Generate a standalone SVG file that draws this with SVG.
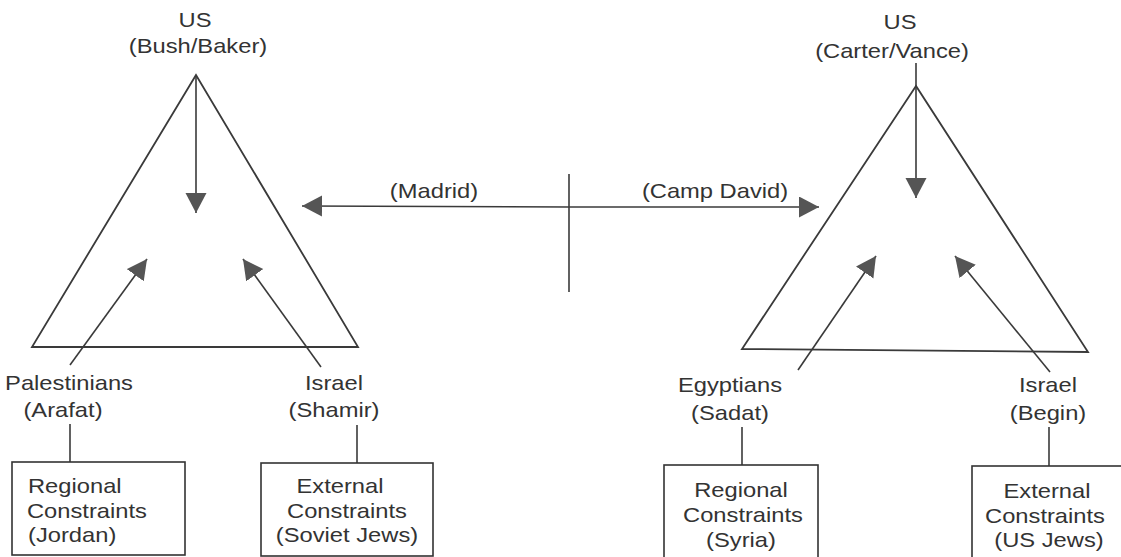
<svg xmlns="http://www.w3.org/2000/svg" width="1121" height="557" viewBox="0 0 1121 557">
<style>
.t{font-family:"Liberation Sans",Arial,sans-serif;font-size:21px;fill:#333;}
.m{text-anchor:middle;}
.ln{stroke:#3a3a3a;stroke-width:1.6;fill:none;}
.tri{stroke:#3a3a3a;stroke-width:1.8;fill:none;stroke-linejoin:miter;}
.box{stroke:#333;stroke-width:1.6;fill:#fff;}
</style>
<defs>
<marker id="ah" markerUnits="userSpaceOnUse" markerWidth="22" markerHeight="22" refX="20" refY="10.5" orient="auto">
<path d="M0,0 L20,10.5 L0,21 Z" fill="#555"/>
</marker>
</defs>
<rect width="1121" height="557" fill="#fff"/>
<g id="triangle-left"><polygon class="tri" points="196,75 32,347 358,347"/></g>
<g id="triangle-right"><polygon class="tri" points="916,86 742,349 1088,352"/></g>
<g id="connectors">
<line class="ln" x1="196" y1="75" x2="196" y2="213" marker-end="url(#ah)"/>
<line class="ln" x1="70" y1="365" x2="147" y2="259" marker-end="url(#ah)"/>
<line class="ln" x1="321" y1="367" x2="243" y2="259" marker-end="url(#ah)"/>
<line class="ln" x1="70" y1="424" x2="70" y2="462"/>
<line class="ln" x1="357" y1="425" x2="357" y2="463"/>
<line class="ln" x1="569" y1="207" x2="302" y2="206" marker-end="url(#ah)"/>
<line class="ln" x1="569" y1="207" x2="819" y2="207" marker-end="url(#ah)"/>
<line class="ln" x1="569" y1="174" x2="569" y2="292"/>
<line class="ln" x1="916" y1="63" x2="916" y2="198" marker-end="url(#ah)"/>
<line class="ln" x1="798" y1="370" x2="876" y2="256" marker-end="url(#ah)"/>
<line class="ln" x1="1050" y1="372" x2="955" y2="256" marker-end="url(#ah)"/>
<line class="ln" x1="742" y1="427" x2="742" y2="465"/>
<line class="ln" x1="1049" y1="427" x2="1049" y2="466"/>
</g>
<g id="us-left">
<text class="t m" transform="translate(195,27) scale(1.13,1)">US</text>
<text class="t m" transform="translate(198,53) scale(1.13,1)">(Bush/Baker)</text>
</g>
<g id="us-right">
<text class="t m" transform="translate(900,29) scale(1.13,1)">US</text>
<text class="t m" transform="translate(892,58) scale(1.13,1)">(Carter/Vance)</text>
</g>
<g id="label-madrid"><text class="t m" transform="translate(434,198) scale(1.13,1)">(Madrid)</text></g>
<g id="label-campdavid"><text class="t m" transform="translate(715,198) scale(1.13,1)">(Camp David)</text></g>
<g id="palestinians">
<text class="t m" transform="translate(69,390) scale(1.13,1)">Palestinians</text>
<text class="t m" transform="translate(63,417) scale(1.13,1)">(Arafat)</text>
</g>
<g id="israel-left">
<text class="t m" transform="translate(334,390) scale(1.13,1)">Israel</text>
<text class="t m" transform="translate(334,417) scale(1.13,1)">(Shamir)</text>
</g>
<g id="egyptians">
<text class="t m" transform="translate(730,392) scale(1.13,1)">Egyptians</text>
<text class="t m" transform="translate(730,420) scale(1.13,1)">(Sadat)</text>
</g>
<g id="israel-right">
<text class="t m" transform="translate(1048,392) scale(1.13,1)">Israel</text>
<text class="t m" transform="translate(1048,420) scale(1.13,1)">(Begin)</text>
</g>
<g id="box-jordan">
<rect class="box" x="12" y="462" width="173" height="93"/>
<text class="t" transform="translate(28,493) scale(1.13,1)">Regional</text>
<text class="t" transform="translate(27,518) scale(1.13,1)">Constraints</text>
<text class="t" transform="translate(28,542) scale(1.13,1)">(Jordan)</text>
</g>
<g id="box-soviet">
<rect class="box" x="261" y="463" width="172" height="93"/>
<text class="t m" transform="translate(340,493) scale(1.13,1)">External</text>
<text class="t m" transform="translate(347,518) scale(1.13,1)">Constraints</text>
<text class="t m" transform="translate(347,542) scale(1.13,1)">(Soviet Jews)</text>
</g>
<g id="box-syria">
<rect class="box" x="664" y="465" width="154" height="100"/>
<text class="t m" transform="translate(741,497) scale(1.13,1)">Regional</text>
<text class="t m" transform="translate(743,522) scale(1.13,1)">Constraints</text>
<text class="t m" transform="translate(741,547) scale(1.13,1)">(Syria)</text>
</g>
<g id="box-usjews">
<rect class="box" x="972" y="466" width="160" height="100"/>
<text class="t m" transform="translate(1047,498) scale(1.13,1)">External</text>
<text class="t m" transform="translate(1045,523) scale(1.13,1)">Constraints</text>
<text class="t m" transform="translate(1049,547) scale(1.13,1)">(US Jews)</text>
</g>
</svg>
